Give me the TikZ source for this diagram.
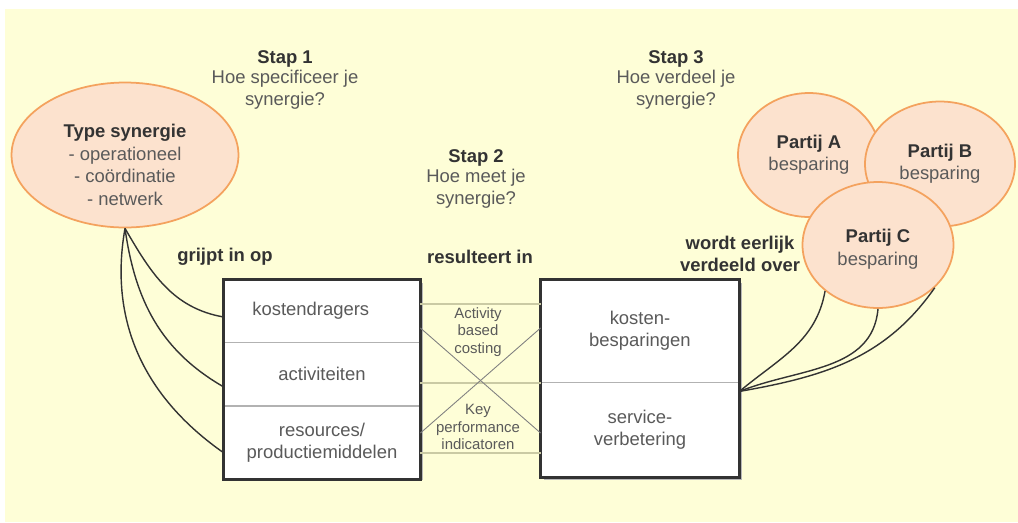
\documentclass[tikz,border=0pt]{standalone}
\usepackage{fontspec}
\setmainfont{Liberation Sans}
\usepackage{tikz}
\usetikzlibrary{shapes.geometric}
\definecolor{bgyellow}{HTML}{FEFED7}
\definecolor{peach}{HTML}{FCE2CE}
\definecolor{peachline}{HTML}{F4A25E}
\definecolor{darktext}{HTML}{333333}
\definecolor{greytext}{HTML}{5A5A5A}
\definecolor{khaki}{HTML}{CACAA4}
\tikzset{
    txt/.style={text=greytext, font=\fontsize{10.5}{12.8}\selectfont, align=center, inner sep=0pt},
    head/.style={txt, text=darktext, font=\bfseries\fontsize{10.5}{12.8}\selectfont},
    small/.style={txt, font=\fontsize{8.5}{9.8}\selectfont},
    bubble/.style={ellipse, draw=peachline, fill=peach, line width=1pt, inner sep=0pt,
        align=center, text=greytext, font=\fontsize{10.5}{12.5}\selectfont},
    part/.style={rectangle, draw=gray!60, fill=white, line width=0.5pt, inner sep=0pt,
        align=center, text=greytext, font=\fontsize{10.5}{12.5}\selectfont},
    wire/.style={draw=black!80, line width=0.8pt},
    link/.style={draw=khaki, line width=1.3pt},
    cross/.style={draw=gray, line width=0.5pt},
    frame/.style={draw=darktext, line width=1.6pt}
}

\begin{document}
\begin{tikzpicture}[x=0.02cm, y=-0.02cm]
\useasboundingbox (0,0) rectangle (1018,522);
\fill[bgyellow] (5,9) rectangle (1018,522);

\node[head] (stap1) at (285,59) {Stap 1};
\node[txt, below=1pt] (vraag1) at (stap1.south) {Hoe specificeer je\\synergie?};
\node[head] (stap2) at (476,158) {Stap 2};
\node[txt, below=1pt] (vraag2) at (stap2.south) {Hoe meet je\\synergie?};
\node[head] (stap3) at (676,59) {Stap 3};
\node[txt, below=1pt] (vraag3) at (stap3.south) {Hoe verdeel je\\synergie?};

\node[head] (grijpt) at (225,257) {grijpt in op};
\node[head] (result) at (480,257) {resulteert in};
\node[head] (verdeeld) at (740,254) {wordt eerlijk\\verdeeld over};

\node[bubble, minimum width=4.54cm, minimum height=2.9cm] (tsyn) at (125,155) {};
\node[txt] (tsyntxt) at (125,165)
    {{\bfseries\color{darktext}Type synergie}\\- operationeel\\- co\"ordinatie\\- netwerk};

\fill[black!28] (227,283) rectangle (423,480);
\fill[black!28] (544,283) rectangle (742,480);
\node[part, minimum width=3.92cm, minimum height=1.24cm] (kost) at (322,311) {kostendragers\hspace*{0.45cm}};
\node[part, minimum width=3.92cm, minimum height=1.26cm, below=0pt] (activ) at (kost.south) {activiteiten};
\node[part, minimum width=3.92cm, minimum height=1.44cm, below=0pt] (resour) at (activ.south) {resources/\\productiemiddelen};
\draw[frame] (kost.north west) rectangle (resour.south east);

\node[part, minimum width=3.96cm, minimum height=2.04cm] (besp) at (640,331) {kosten-\\besparingen};
\node[part, minimum width=3.96cm, minimum height=1.88cm, below=0pt] (serv) at (besp.south) {service-\\verbetering};
\draw[frame] (besp.north west) rectangle (serv.south east);

\draw[link] (kost.east |- 0,304) -- (besp.west |- 0,304);
\draw[link] (kost.east |- 0,383) -- (besp.west |- 0,383);
\draw[link] (kost.east |- 0,453) -- (besp.west |- 0,453);
\draw[cross] (kost.east |- 0,328) -- (besp.west |- 0,433);
\draw[cross] (kost.east |- 0,433) -- (besp.west |- 0,328);
\node[small] (abc) at (478,332) {Activity\\based\\costing};
\node[small] (kpi) at (478,427) {Key\\performance\\indicatoren};

\node[bubble, minimum width=2.84cm, minimum height=2.48cm] (partA) at (809,155)
    {{\bfseries\color{darktext}Partij A}\\besparing};
\node[bubble, minimum width=3cm, minimum height=2.5cm] (partB) at (940,164)
    {{\bfseries\color{darktext}Partij B}\\besparing};
\node[bubble, minimum width=3.02cm, minimum height=2.52cm] (partC) at (878,245) {};
\node[txt] (partCtxt) at (878,249) {{\bfseries\color{darktext}Partij C}\\besparing};

\coordinate (gk) at ([yshift=-0.12cm]kost.west);
\coordinate (ga) at ([yshift=-0.25cm]activ.west);
\coordinate (gr) at ([yshift=-0.2cm]resour.west);
\draw[wire] (tsyn.south) to[out=-60, in=170] (gk);
\draw[wire] (tsyn.south) to[out=-82, in=150] (ga);
\draw[wire] (tsyn.south) to[out=-100, in=145] (gr);

\coordinate (fork) at ([yshift=-0.18cm]besp.south east);
\draw[wire] (fork) to[out=40, in=-100] (partC.221);
\draw[wire] (fork) to[out=22, in=-95] (partC.270);
\draw[wire] (fork) to[out=10, in=-125] (partC.323);
\end{tikzpicture}
\end{document}
